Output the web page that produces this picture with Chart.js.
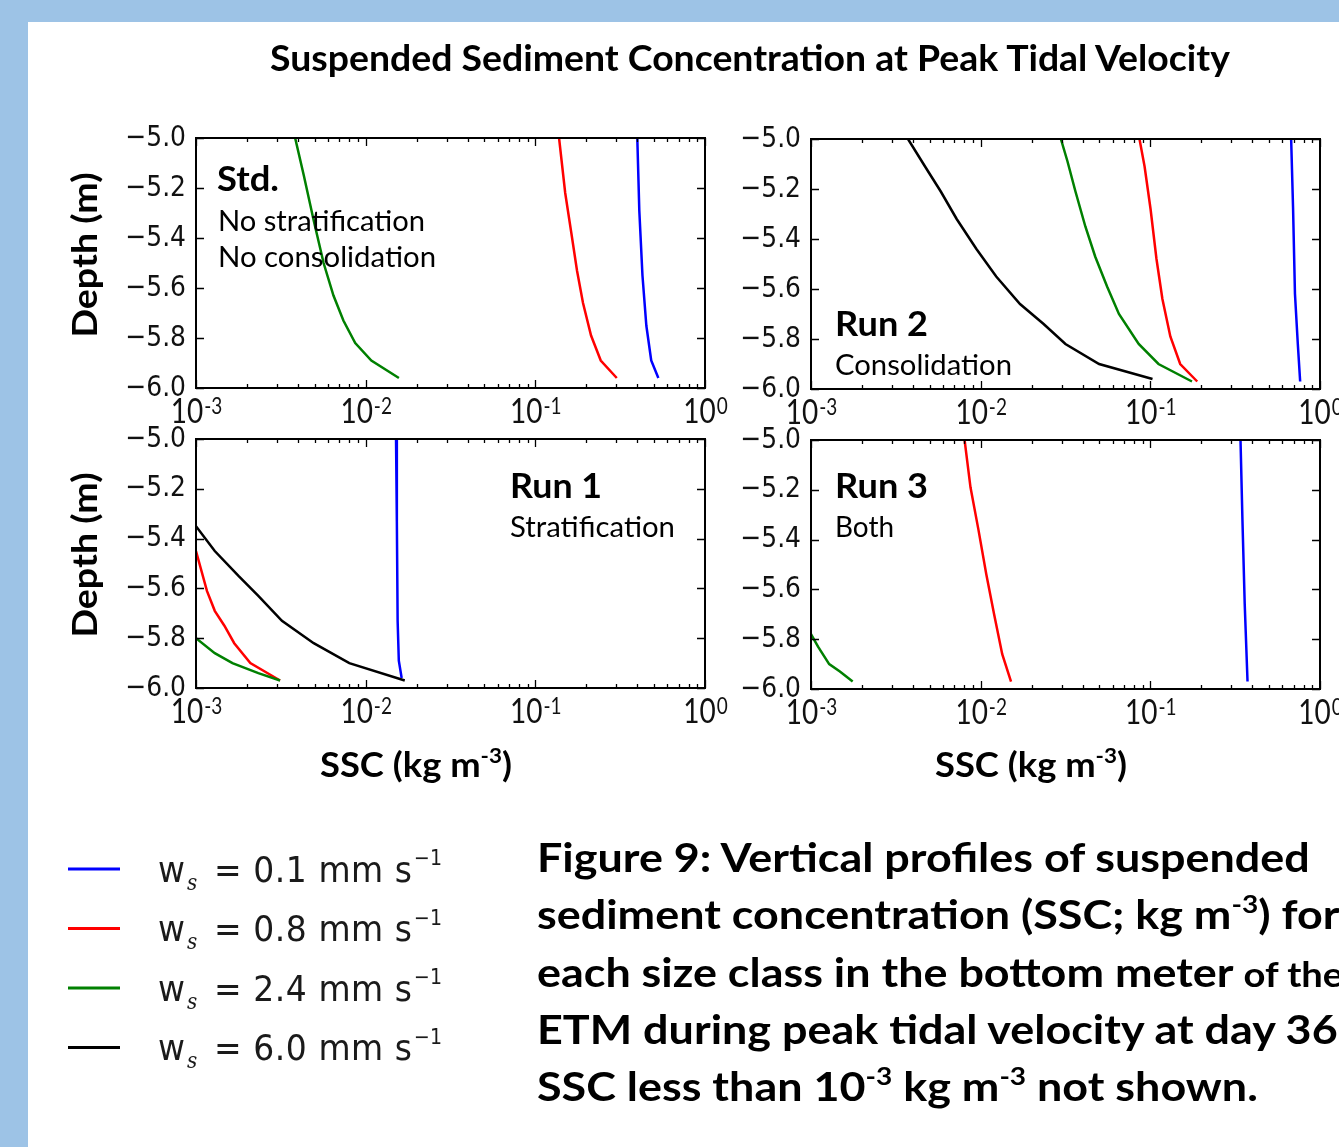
<!DOCTYPE html>
<html>
<head>
<meta charset="utf-8">
<script src="https://cdn.jsdelivr.net/npm/chart.js@4.4.1/dist/chart.umd.min.js"></script>
<style>
  html, body { margin: 0; padding: 0; }
  body {
    width: 1339px; height: 1147px; overflow: hidden; position: relative;
    background: #9dc3e6;
  }
  #sheet { position: absolute; left: 28px; top: 22px; right: 0; bottom: 0; background: #fff; }
  canvas { position: absolute; }
  #overlay { position: absolute; left: 0; top: 0; pointer-events: none; }
  .cal { font-family: Lato, "Open Sans", sans-serif; fill: #000; }
  .mpl { font-family: "DejaVu Sans", sans-serif; fill: #1a1a1a; }
</style>
</head>
<body>
<div id="sheet"></div>
<canvas id="cStd"></canvas>
<canvas id="cRun2"></canvas>
<canvas id="cRun1"></canvas>
<canvas id="cRun3"></canvas>

<svg id="overlay" width="1339" height="1147" xmlns="http://www.w3.org/2000/svg">
  <text class="cal" x="270" y="71" font-size="36" font-weight="bold" textLength="960" lengthAdjust="spacingAndGlyphs">Suspended Sediment Concentration at Peak Tidal Velocity</text>

  <!-- y axis labels -->
  <text class="cal" font-size="34" font-weight="bold" text-anchor="middle" transform="translate(97 255) rotate(-90)" textLength="165" lengthAdjust="spacingAndGlyphs">Depth (m)</text>
  <text class="cal" font-size="34" font-weight="bold" text-anchor="middle" transform="translate(97 555) rotate(-90)" textLength="165" lengthAdjust="spacingAndGlyphs">Depth (m)</text>

  <!-- x axis labels -->
  <text id="sscL" class="cal" x="320" y="777" font-size="34" font-weight="bold">SSC (kg m<tspan dy="-14" font-size="21">-3</tspan><tspan dy="14">)</tspan></text>
  <text id="sscR" class="cal" x="935" y="777" font-size="34" font-weight="bold">SSC (kg m<tspan dy="-14" font-size="21">-3</tspan><tspan dy="14">)</tspan></text>

  <!-- panel notes -->
  <text class="cal" x="217" y="191" font-size="35" font-weight="bold" textLength="62" lengthAdjust="spacingAndGlyphs">Std.</text>
  <text class="cal" x="218" y="231" font-size="29" textLength="207" lengthAdjust="spacingAndGlyphs">No stratification</text>
  <text class="cal" x="218" y="267" font-size="29" textLength="218" lengthAdjust="spacingAndGlyphs">No consolidation</text>
  <text class="cal" x="835" y="336" font-size="35" font-weight="bold" textLength="93" lengthAdjust="spacingAndGlyphs">Run 2</text>
  <text class="cal" x="835" y="375" font-size="29" textLength="177" lengthAdjust="spacingAndGlyphs">Consolidation</text>
  <text class="cal" x="510" y="498" font-size="35" font-weight="bold" textLength="92" lengthAdjust="spacingAndGlyphs">Run 1</text>
  <text class="cal" x="510" y="537" font-size="29" textLength="165" lengthAdjust="spacingAndGlyphs">Stratification</text>
  <text class="cal" x="835" y="498" font-size="35" font-weight="bold" textLength="93" lengthAdjust="spacingAndGlyphs">Run 3</text>
  <text class="cal" x="835" y="537" font-size="29" textLength="59" lengthAdjust="spacingAndGlyphs">Both</text>

  <!-- legend, filled from script -->
  <g id="legend"></g>

  <!-- caption -->
  <g id="caption" class="cal" font-size="40" font-weight="bold">
    <text id="cap1" x="537" y="872">Figure 9: Vertical profiles of suspended</text>
    <text x="537" y="929">sediment concentration (SSC; kg m<tspan dy="-16" font-size="25">-3</tspan><tspan dy="16">) for</tspan></text>
    <text x="537" y="987">each size class in the bottom meter <tspan font-size="34">of the</tspan></text>
    <text x="537" y="1044">ETM during peak tidal velocity at day 365</text>
    <text x="537" y="1101">SSC less than 10<tspan dy="-16" font-size="25">-3</tspan><tspan dy="16"> kg m</tspan><tspan dy="-16" font-size="25">-3</tspan><tspan dy="16"> not shown.</tspan></text>
  </g>
</svg>

<script>
// ---- 축 눈금 ----
const depthTicks = [-5.0, -5.2, -5.4, -5.6, -5.8, -6.0];
const sscDecades = [0.001, 0.01, 0.1, 1];
const sscExponents = ['-3', '-2', '-1', '0'];

// ---- 범례 (침강속도) ----
const wsLabels = ['0.1', '0.8', '2.4', '6.0'];
const wsColors = ['#0000ff', '#ff0000', '#008000', '#000000'];

// ---- Std. ----
const stdBlueSSC    = [0.399, 0.410, 0.428, 0.451, 0.482, 0.531];
const stdBlueDepth  = [-5.00, -5.29, -5.55, -5.75, -5.89, -5.96];
const stdRedSSC     = [0.138, 0.150, 0.163, 0.176, 0.191, 0.213, 0.243, 0.302];
const stdRedDepth   = [-5.00, -5.22, -5.38, -5.53, -5.66, -5.79, -5.89, -5.96];
const stdGreenSSC   = [0.00384, 0.00432, 0.00494, 0.00565, 0.00646, 0.00739, 0.00868, 0.0108, 0.0157];
const stdGreenDepth = [-5.00, -5.15, -5.33, -5.50, -5.63, -5.73, -5.82, -5.89, -5.96];

// ---- Run 2 (consolidation) ----
const run2BlueSSC    = [0.676, 0.694, 0.712, 0.740, 0.764];
const run2BlueDepth  = [-5.00, -5.28, -5.62, -5.82, -5.97];
const run2RedSSC     = [0.0863, 0.0925, 0.1003, 0.1087, 0.1178, 0.1312, 0.150, 0.189];
const run2RedDepth   = [-5.00, -5.11, -5.28, -5.48, -5.64, -5.79, -5.90, -5.97];
const run2GreenSSC   = [0.0297, 0.0325, 0.0362, 0.0414, 0.0473, 0.0556, 0.0653, 0.0854, 0.1117, 0.176];
const run2GreenDepth = [-5.00, -5.09, -5.21, -5.35, -5.47, -5.59, -5.70, -5.82, -5.90, -5.97];
const run2BlackSSC   = [0.00373, 0.0047, 0.00582, 0.00722, 0.00944, 0.01235, 0.01706, 0.0235, 0.0316, 0.0499, 0.103];
const run2BlackDepth = [-5.00, -5.11, -5.21, -5.32, -5.44, -5.55, -5.66, -5.74, -5.82, -5.90, -5.96];

// ---- Run 1 (stratification) ----
const run1BlueSSC    = [0.0151, 0.01527, 0.01543, 0.01568, 0.0163];
const run1BlueDepth  = [-5.00, -5.33, -5.73, -5.89, -5.96];
const run1RedSSC     = [0.001, 0.00116, 0.00129, 0.00147, 0.00168, 0.00209, 0.00313];
const run1RedDepth   = [-5.45, -5.61, -5.69, -5.75, -5.82, -5.90, -5.97];
const run1GreenSSC   = [0.001, 0.00129, 0.00164, 0.00233, 0.00313];
const run1GreenDepth = [-5.80, -5.86, -5.90, -5.94, -5.97];
const run1BlackSSC   = [0.001, 0.00129, 0.00178, 0.00233, 0.00321, 0.00494, 0.00801, 0.0170];
const run1BlackDepth = [-5.35, -5.45, -5.55, -5.63, -5.73, -5.82, -5.90, -5.97];

// ---- Run 3 (both) ----
const run3BlueSSC    = [0.340, 0.349, 0.360, 0.374];
const run3BlueDepth  = [-5.00, -5.32, -5.66, -5.97];
const run3RedSSC     = [0.00804, 0.00871, 0.0097, 0.0108, 0.0120, 0.0134, 0.0151];
const run3RedDepth   = [-5.00, -5.19, -5.36, -5.54, -5.70, -5.86, -5.97];
const run3GreenSSC   = [0.001, 0.0011, 0.00128, 0.00148, 0.00176];
const run3GreenDepth = [-5.78, -5.83, -5.90, -5.93, -5.97];

// 그림이 세로로 조금 늘어나 있어서 눈금 글자도 같이 늘림
const SY = 1.16;

function toPoints(ssc, depth) {
    return ssc.map((v, i) => ({ x: v, y: depth[i] }));
}

// matplotlib 스타일: 네 면 테두리 + 안쪽 눈금 + 눈금 글자
const mplAxes = {
    id: 'mplAxes',
    afterDatasetsDraw(chart) {
        const { ctx, chartArea: a, scales: { x, y } } = chart;
        ctx.save();
        ctx.strokeStyle = '#000';
        ctx.lineWidth = 1.3;
        ctx.beginPath();
        depthTicks.forEach(v => {
            const py = Math.round(y.getPixelForValue(v)) + 0.5;
            ctx.moveTo(a.left, py); ctx.lineTo(a.left + 8, py);
            ctx.moveTo(a.right, py); ctx.lineTo(a.right - 8, py);
        });
        sscDecades.forEach((d, i) => {
            const px = Math.round(x.getPixelForValue(d)) + 0.5;
            ctx.moveTo(px, a.bottom); ctx.lineTo(px, a.bottom - 8);
            ctx.moveTo(px, a.top); ctx.lineTo(px, a.top + 8);
            if (i < sscDecades.length - 1) {
                for (let m = 2; m <= 9; m++) {
                    const mx = Math.round(x.getPixelForValue(d * m)) + 0.5;
                    ctx.moveTo(mx, a.bottom); ctx.lineTo(mx, a.bottom - 4);
                    ctx.moveTo(mx, a.top); ctx.lineTo(mx, a.top + 4);
                }
            }
        });
        ctx.stroke();
        ctx.lineWidth = 2;
        ctx.strokeRect(a.left, a.top, a.right - a.left, a.bottom - a.top);

        // y 눈금 글자
        ctx.fillStyle = '#111';
        ctx.font = '25px "DejaVu Sans"';
        ctx.textAlign = 'right';
        ctx.textBaseline = 'middle';
        depthTicks.forEach(v => {
            const py = y.getPixelForValue(v);
            ctx.save();
            ctx.translate(a.left - 10, py);
            ctx.scale(1, SY);
            ctx.fillText('\u2212' + Math.abs(v).toFixed(1), 0, 0);
            ctx.restore();
        });

        // x 눈금 글자 (10^n)
        ctx.textAlign = 'left';
        ctx.textBaseline = 'alphabetic';
        sscDecades.forEach((d, i) => {
            const px = x.getPixelForValue(d);
            ctx.save();
            ctx.translate(px, a.bottom + 10);
            ctx.scale(1, SY * 1.08);
            ctx.font = '28px Lato';
            const w1 = ctx.measureText('10').width;
            ctx.font = '19px Lato';
            const w2 = ctx.measureText(sscExponents[i]).width;
            const x0 = -(w1 + w2) / 2;
            ctx.font = '28px Lato';
            ctx.fillText('10', x0, 20);
            ctx.font = '19px Lato';
            ctx.fillText(sscExponents[i], x0 + w1 + 1, 13);
            ctx.restore();
        });
        ctx.restore();
    }
};

function makeSeries(list) {
    return list.map(s => ({
        data: toPoints(s.ssc, s.depth),
        borderColor: s.color,
        borderWidth: 2.5,
        pointRadius: 0,
        tension: 0,
        fill: false
    }));
}

// 패널 위치: 그래프 영역(l, t, r, b)을 화면 좌표로
function renderPanel(id, area, series) {
    const pad = { left: 110, top: 30, right: 50, bottom: 50 };
    const cv = document.getElementById(id);
    cv.width = (area.r - area.l) + pad.left + pad.right;
    cv.height = (area.b - area.t) + pad.top + pad.bottom;
    cv.style.left = (area.l - pad.left) + 'px';
    cv.style.top = (area.t - pad.top) + 'px';

    new Chart(cv, {
        type: 'line',
        data: { datasets: makeSeries(series) },
        options: {
            responsive: false,
            animation: false,
            layout: { padding: pad },
            plugins: { legend: { display: false }, title: { display: false }, tooltip: { enabled: false } },
            scales: {
                x: { type: 'logarithmic', min: 0.001, max: 1, display: false },
                y: { type: 'linear', min: -6, max: -5, display: false }
            }
        },
        plugins: [mplAxes]
    });
}

renderPanel('cStd', { l: 196, t: 138, r: 705, b: 388 }, [
    { ssc: stdGreenSSC, depth: stdGreenDepth, color: wsColors[2] },
    { ssc: stdRedSSC, depth: stdRedDepth, color: wsColors[1] },
    { ssc: stdBlueSSC, depth: stdBlueDepth, color: wsColors[0] }
]);
renderPanel('cRun2', { l: 811, t: 139, r: 1320, b: 389 }, [
    { ssc: run2BlackSSC, depth: run2BlackDepth, color: wsColors[3] },
    { ssc: run2GreenSSC, depth: run2GreenDepth, color: wsColors[2] },
    { ssc: run2RedSSC, depth: run2RedDepth, color: wsColors[1] },
    { ssc: run2BlueSSC, depth: run2BlueDepth, color: wsColors[0] }
]);
renderPanel('cRun1', { l: 196, t: 439, r: 705, b: 688 }, [
    { ssc: run1BlackSSC, depth: run1BlackDepth, color: wsColors[3] },
    { ssc: run1GreenSSC, depth: run1GreenDepth, color: wsColors[2] },
    { ssc: run1RedSSC, depth: run1RedDepth, color: wsColors[1] },
    { ssc: run1BlueSSC, depth: run1BlueDepth, color: wsColors[0] }
]);
renderPanel('cRun3', { l: 811, t: 440, r: 1320, b: 689 }, [
    { ssc: run3GreenSSC, depth: run3GreenDepth, color: wsColors[2] },
    { ssc: run3RedSSC, depth: run3RedDepth, color: wsColors[1] },
    { ssc: run3BlueSSC, depth: run3BlueDepth, color: wsColors[0] }
]);

// 범례 (matplotlib 범례 모양)
function buildLegend() {
    const ns = 'http://www.w3.org/2000/svg';
    const g = document.getElementById('legend');
    wsLabels.forEach((lab, i) => {
        const ly = 869 + i * 59.5;
        const base = ly + 13;
        const line = document.createElementNS(ns, 'line');
        line.setAttribute('x1', 68); line.setAttribute('x2', 120);
        line.setAttribute('y1', ly); line.setAttribute('y2', ly);
        line.setAttribute('stroke', wsColors[i]);
        line.setAttribute('stroke-width', 3);
        g.appendChild(line);

        const row = document.createElementNS(ns, 'g');
        row.setAttribute('class', 'mpl');
        row.setAttribute('transform', `translate(0 ${base}) scale(1 1.1) translate(0 ${-base})`);
        row.innerHTML =
            `<text x="158" y="${base}" font-size="33">w</text>` +
            `<text x="187" y="${base + 7}" font-size="20" font-style="italic" font-family="DejaVu Serif">s</text>` +
            `<text x="214" y="${base}" font-size="33" textLength="198">= ${lab} mm s</text>` +
            `<text x="414" y="${base - 15}" font-size="19">\u22121</text>`;
        g.appendChild(row);
    });
}
buildLegend();

// 가로 폭 맞추기 (Calibri 대신 Lato 사용)
function fitWidth(el, target, ox) {
    const w = el.getBBox().width;
    const k = target / w;
    el.setAttribute('transform', `translate(${ox} 0) scale(${k} 1) translate(${-ox} 0)`);
    return k;
}
const capK = document.getElementById('cap1').getBBox().width;
fitWidth(document.getElementById('caption'), 773 * document.getElementById('caption').getBBox().width / capK, 537);
fitWidth(document.getElementById('sscL'), 192, 320);
fitWidth(document.getElementById('sscR'), 192, 935);
</script>
</body>
</html>
